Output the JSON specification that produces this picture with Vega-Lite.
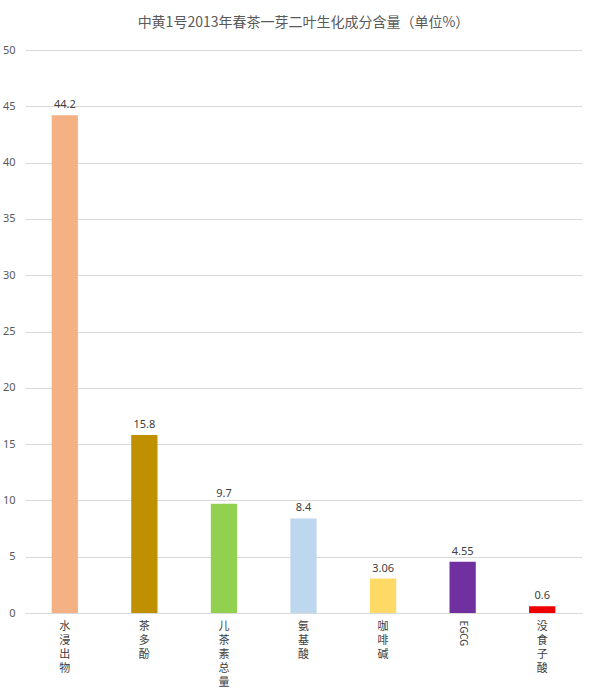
{
  "$schema": "https://vega.github.io/schema/vega-lite/v6.json",
  "width": 557,
  "height": 563,
  "autosize": {"type": "none"},
  "padding": {"left": 25, "top": 50, "right": 11, "bottom": 80},
  "background": "white",
  "title": {
    "text": "中黄1号2013年春茶一芽二叶生化成分含量（单位%）",
    "font": "Noto Sans CJK SC",
    "fontSize": 14,
    "fontWeight": "normal",
    "color": "#595959",
    "offset": 14,
    "anchor": "middle"
  },
  "config": {"view": {"stroke": null}},
  "data": {
    "values": [
      {"name": "水浸出物", "value": 44.2, "label": "44.2", "color": "#F4B183"},
      {"name": "茶多酚", "value": 15.8, "label": "15.8", "color": "#BF9000"},
      {"name": "儿茶素总量", "value": 9.7, "label": "9.7", "color": "#92D050"},
      {"name": "氨基酸", "value": 8.4, "label": "8.4", "color": "#BDD7EE"},
      {"name": "咖啡碱", "value": 3.06, "label": "3.06", "color": "#FFD966"},
      {"name": "EGCG", "value": 4.55, "label": "4.55", "color": "#7030A0"},
      {"name": "没食子酸", "value": 0.6, "label": "0.6", "color": "#EE0000"}
    ]
  },
  "encoding": {
    "x": {
      "field": "name",
      "type": "nominal",
      "sort": null,
      "scale": {"paddingInner": 0.67, "paddingOuter": 0.335},
      "axis": {
        "title": null,
        "labelAngle": {"expr": "datum.value == 'EGCG' ? 90 : 0"},
        "labelAlign": {"condition": {"test": "datum.value == 'EGCG'", "value": "left"}, "value": "center"},
        "labelBaseline": {"condition": {"test": "datum.value == 'EGCG'", "value": "middle"}, "value": "top"},
        "labelFontSize": {"condition": {"test": "datum.value == 'EGCG'", "value": 10}, "value": 11},
        "labelFont": "Noto Sans CJK SC",
        "labelColor": "#404040",
        "labelLineHeight": 14,
        "labelPadding": 7,
        "labelExpr": "datum.label == 'EGCG' ? datum.label : split(datum.label, '')",
        "ticks": false,
        "domainColor": "#D9D9D9",
        "grid": false
      }
    },
    "y": {
      "field": "value",
      "type": "quantitative",
      "scale": {"domain": [0, 50]},
      "axis": {
        "title": null,
        "values": [0, 5, 10, 15, 20, 25, 30, 35, 40, 45, 50],
        "domain": false,
        "ticks": false,
        "labelPadding": 10,
        "labelFont": "Noto Sans",
        "labelFontSize": 11,
        "labelColor": "#595959",
        "gridColor": "#D9D9D9"
      }
    }
  },
  "layer": [
    {
      "mark": {"type": "bar"},
      "encoding": {
        "color": {"field": "color", "type": "nominal", "scale": null}
      }
    },
    {
      "mark": {"type": "text", "dy": -10, "font": "Noto Sans", "fontSize": 11, "color": "#404040"},
      "encoding": {"text": {"field": "label"}}
    }
  ]
}
